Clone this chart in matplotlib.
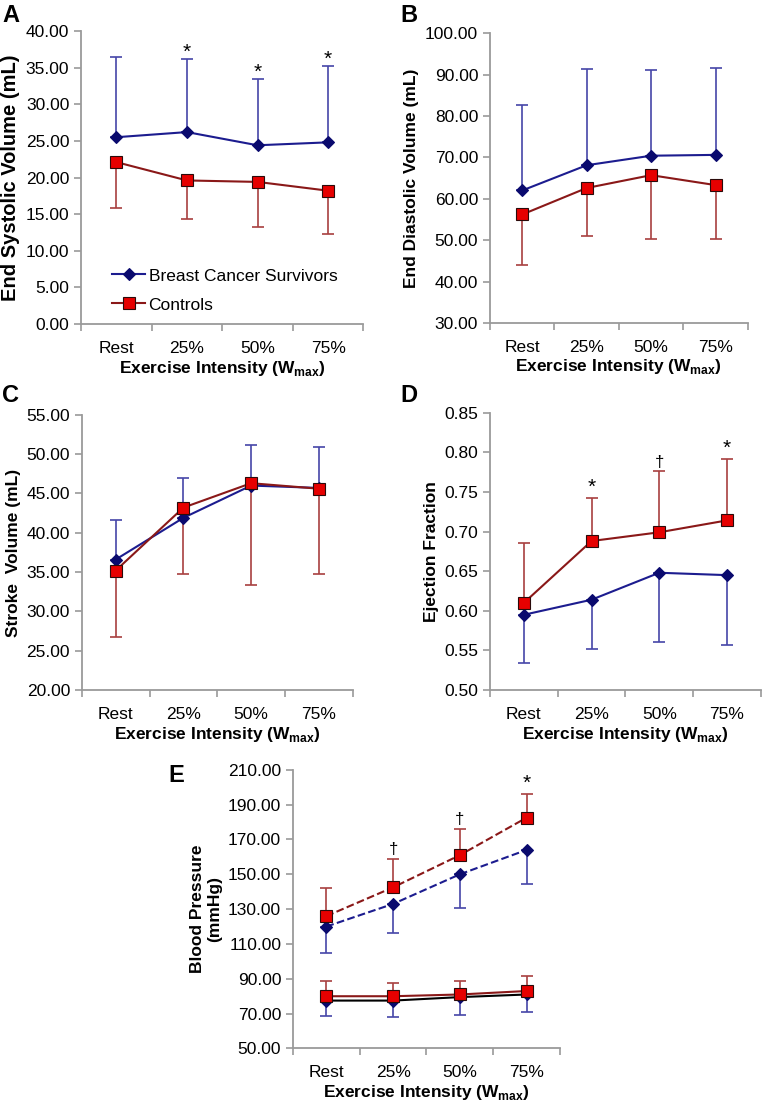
import matplotlib
matplotlib.use("Agg")
import matplotlib.pyplot as plt
import numpy as np

plt.rcParams['font.family'] = ['Liberation Sans', 'DejaVu Sans']
plt.rcParams['mathtext.fontset'] = 'custom'
plt.rcParams['mathtext.rm'] = 'Liberation Sans'
plt.rcParams['mathtext.bf'] = 'Liberation Sans:bold'

categories = ['Rest', '25%', '50%', '75%']

# A - end systolic volume
esv_bcs = [25.5, 26.2, 24.4, 24.8]
esv_bcs_sd = [11.0, 10.0, 9.1, 10.4]
esv_ctl = [22.1, 19.6, 19.4, 18.2]
esv_ctl_sd = [6.3, 5.3, 6.2, 5.9]
esv_marks = ['', '*', '*', '*']

# B - end diastolic volume
edv_bcs = [62.0, 68.1, 70.4, 70.6]
edv_bcs_sd = [20.7, 23.3, 20.6, 21.0]
edv_ctl = [56.2, 62.6, 65.7, 63.3]
edv_ctl_sd = [12.3, 11.7, 15.5, 13.0]

# C - stroke volume
sv_bcs = [36.6, 41.9, 46.0, 45.7]
sv_bcs_sd = [5.0, 5.0, 5.1, 5.2]
sv_ctl = [35.2, 43.2, 46.3, 45.6]
sv_ctl_sd = [8.5, 8.5, 12.9, 10.8]

# D - ejection fraction
ef_bcs = [0.595, 0.614, 0.648, 0.645]
ef_bcs_sd = [0.061, 0.062, 0.087, 0.088]
ef_ctl = [0.610, 0.688, 0.699, 0.714]
ef_ctl_sd = [0.075, 0.054, 0.077, 0.077]
ef_marks = ['', '*', '\u2020', '*']

# E - blood pressure
sbp_bcs = [120.0, 133.0, 150.0, 164.0]
sbp_bcs_sd = [15.0, 16.5, 19.5, 19.5]
sbp_ctl = [126.0, 142.5, 161.0, 182.5]
sbp_ctl_sd = [16.0, 16.5, 15.0, 13.5]
dbp_bcs = [77.5, 77.5, 79.5, 81.0]
dbp_bcs_sd = [9.0, 9.5, 10.0, 10.0]
dbp_ctl = [80.0, 80.0, 81.0, 83.0]
dbp_ctl_sd = [8.5, 7.5, 7.5, 8.5]
bp_marks = ['', '\u2020', '\u2020', '*']

BLUE_LINE = '#1c1c8f'
BLUE_MK = '#0a0a6e'
BLUE_ERR = '#4646a8'
RED_LINE = '#8a1818'
RED_MK = '#e60000'
RED_ERR = '#a84040'
SPINE = '#9a9a9a'

x = np.arange(len(categories))
xlabel = r'Exercise Intensity (W$_\mathbf{max}$)'

fig = plt.figure(figsize=(7.65, 11.06), dpi=100)


def setup(ax, ylim, step, fmt, ylabel, ylabel_size=12.5):
    ax.set_xlim(-0.5, len(categories) - 0.5)
    ax.set_ylim(*ylim)
    ax.set_yticks(np.arange(ylim[0], ylim[1] + step / 2, step))
    ax.set_yticklabels([fmt.format(v) for v in ax.get_yticks()])
    ax.set_xticks(x)
    ax.set_xticklabels(categories)
    ax.set_xticks(np.arange(-0.5, len(categories)), minor=True)
    ax.tick_params(axis='x', which='major', length=0, labelsize=12.5, pad=12)
    ax.tick_params(axis='x', which='minor', length=5, color=SPINE, width=1.2)
    ax.tick_params(axis='y', length=5, color=SPINE, width=1.2, labelsize=12.5)
    for s in ['top', 'right']:
        ax.spines[s].set_visible(False)
    for s in ['left', 'bottom']:
        ax.spines[s].set_color(SPINE)
        ax.spines[s].set_linewidth(1.3)
    ax.set_xlabel(xlabel, fontsize=12.5, fontweight='bold', labelpad=2)
    ax.set_ylabel(ylabel, fontsize=ylabel_size, fontweight='bold')


def series(ax, y, sd, up, kind, ls='-', line_color=None, label=None):
    y = np.array(y)
    sd = np.array(sd)
    zeros = np.zeros_like(sd)
    yerr = [zeros, sd] if up else [sd, zeros]
    if kind == 'bcs':
        ec, lc, mk, mc, ms = BLUE_ERR, BLUE_LINE, 'D', BLUE_MK, 5.8
    else:
        ec, lc, mk, mc, ms = RED_ERR, RED_LINE, 's', RED_MK, 8
    if line_color is not None:
        lc = line_color
    ax.errorbar(x, y, yerr=yerr, fmt='none', ecolor=ec, elinewidth=1.2,
                capsize=4, capthick=1.2, zorder=2)
    ax.plot(x, y, color=lc, lw=1.5, ls=ls, marker=mk, ms=ms,
            markerfacecolor=mc, markeredgecolor='#2a0a0a' if kind == 'ctl' else mc,
            markeredgewidth=0.8, zorder=3, label=label)


def marks(ax, y, sd, labels, dy):
    for xi, yi, si, m in zip(x, y, sd, labels):
        if m:
            ax.text(xi, yi + si + dy, m, ha='center', va='bottom', fontsize=15 if m == '*' else 12)


# Panel A
axA = fig.add_axes([0.106, 0.707, 0.369, 0.265])
setup(axA, (0, 40), 5, '{:.2f}', 'End Systolic Volume (mL)', ylabel_size=14.5)
series(axA, esv_bcs, esv_bcs_sd, True, 'bcs', label='Breast Cancer Survivors')
series(axA, esv_ctl, esv_ctl_sd, False, 'ctl', label='Controls')
marks(axA, esv_bcs, esv_bcs_sd, esv_marks, -0.4)
axA.legend(loc='upper left', bbox_to_anchor=(0.11, 0.19), frameon=False,
           fontsize=12.5, handlelength=1.9, handletextpad=0.2, labelspacing=0.8,
           borderpad=0, borderaxespad=0)

# Panel B
axB = fig.add_axes([0.6405, 0.708, 0.337, 0.262])
setup(axB, (30, 100), 10, '{:.2f}', 'End Diastolic Volume (mL)')
series(axB, edv_bcs, edv_bcs_sd, True, 'bcs')
series(axB, edv_ctl, edv_ctl_sd, False, 'ctl')

# Panel C
axC = fig.add_axes([0.107, 0.376, 0.354, 0.249])
setup(axC, (20, 55), 5, '{:.2f}', 'Stroke  Volume (mL)')
series(axC, sv_bcs, sv_bcs_sd, True, 'bcs')
series(axC, sv_ctl, sv_ctl_sd, False, 'ctl')

# Panel D
axD = fig.add_axes([0.6405, 0.376, 0.354, 0.251])
setup(axD, (0.5, 0.85), 0.05, '{:.2f}', 'Ejection Fraction')
series(axD, ef_bcs, ef_bcs_sd, False, 'bcs')
series(axD, ef_ctl, ef_ctl_sd, True, 'ctl')
marks(axD, ef_ctl, ef_ctl_sd, ef_marks, 0.002)

# Panel E
axE = fig.add_axes([0.383, 0.052, 0.349, 0.252])
setup(axE, (50, 210), 20, '{:.2f}', 'Blood Pressure\n(mmHg)')
series(axE, sbp_bcs, sbp_bcs_sd, False, 'bcs', ls='--')
series(axE, sbp_ctl, sbp_ctl_sd, True, 'ctl', ls='--')
series(axE, dbp_bcs, dbp_bcs_sd, False, 'bcs', line_color='black')
series(axE, dbp_ctl, dbp_ctl_sd, True, 'ctl')
marks(axE, sbp_ctl, sbp_ctl_sd, bp_marks, 1)

for lab, (px, py) in zip('ABCDE', [(2, 4), (400, 4), (2, 384), (400, 384), (168, 764)]):
    fig.text(px / 765, 1 - py / 1106, lab, fontsize=17, fontweight='bold',
             ha='left', va='top')

fig.savefig('out.png', dpi=100)
